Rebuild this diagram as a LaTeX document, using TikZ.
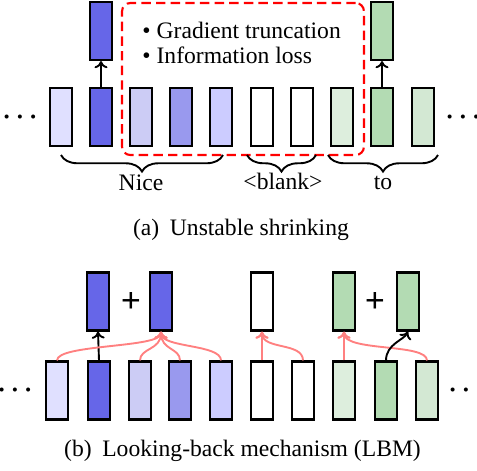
\documentclass[tikz,border=0pt]{standalone}
\usepackage{fontspec}
\setmainfont{Liberation Serif}
\usetikzlibrary{decorations.pathreplacing,arrows.meta}
\definecolor{bla}{HTML}{E0E0FF}
\definecolor{bld}{HTML}{6666E8}
\definecolor{blb}{HTML}{CCCCF5}
\definecolor{blc}{HTML}{9999EE}
\definecolor{ble}{HTML}{CCCCFF}
\definecolor{gra}{HTML}{DDEEDD}
\definecolor{grd}{HTML}{B3DBB3}
\definecolor{grc}{HTML}{D3E8D3}
\definecolor{salmon}{HTML}{FF8080}
\begin{document}
\begin{tikzpicture}[x=0.4237pt,y=-0.4237pt,
  tok/.style={draw=black, line width=0.9pt, minimum width=9.3pt, minimum height=24.6pt, inner sep=0pt},
  blk/.style={draw=black, line width=0.8pt, -{To[length=3pt,width=5.5pt]}},
  rd/.style={draw=salmon, line width=0.8pt, -{To[length=3pt,width=5.5pt]}},
  brc/.style={draw=black, line width=0.8pt, decorate, decoration={brace, mirror, amplitude=7pt}},
  lbl/.style={anchor=base, inner sep=0pt},
  dots/.style={inner sep=0pt, font=\fontsize{10.5}{13}\selectfont\boldmath},
  plus/.style={inner sep=0pt, font=\fontsize{15}{17}\selectfont\bfseries}]
\useasboundingbox (0,0) rectangle (477,470);

% ---------- (a) ----------
\node[draw=red, line width=0.9pt, dash pattern=on 4pt off 2.2pt, rounded corners=3.5pt,
      minimum width=102.5pt, minimum height=64.4pt, inner sep=0pt] (lossbox) at (243,79) {};
\node[anchor=base west, inner sep=0pt] (t1) at (142,38) {\textbullet\ Gradient truncation};
\node[anchor=base west, inner sep=0pt] (t2) at (142,63) {\textbullet\ Information loss};

\node[tok, fill=bla] (a1) at (61,117) {};
\node[tok, fill=bld] (a2) at (101,117) {};
\node[tok, fill=blb] (a3) at (141,117) {};
\node[tok, fill=blc] (a4) at (181,117) {};
\node[tok, fill=ble] (a5) at (221,117) {};
\node[tok, fill=white] (a6) at (262,117) {};
\node[tok, fill=white] (a7) at (302,117) {};
\node[tok, fill=gra] (a8) at (342,117) {};
\node[tok, fill=grd] (a9) at (382,117) {};
\node[tok, fill=grc] (a10) at (423,117) {};
\node[tok, fill=bld] (at2) at (101,31) {};
\node[tok, fill=grd] (at9) at (382,31) {};
\draw[blk] (a2.north) -- (at2.south);
\draw[blk] (a9.north) -- (at9.south);
\node[dots] (dl) at (20,117) {$\cdots$};
\node[dots] (dr) at (463,117) {$\cdots$};

\coordinate (n1) at (61,155); \coordinate (n2) at (223,155);
\coordinate (k1) at (247,155); \coordinate (k2) at (316,155);
\coordinate (o1) at (328,155); \coordinate (o2) at (438,155);
\draw[brc] (n1) -- (n2);
\draw[brc] (k1) -- (k2);
\draw[brc] (o1) -- (o2);
\node[lbl] (lnice) at (141,190) {Nice};
\node[lbl] (lblank) at (283,189) {\textless blank\textgreater};
\node[lbl] (lto) at (383,189) {to};
\node[lbl] (capa) at (241,235) {(a)\hspace{0.45em}Unstable shrinking};

% ---------- (b) ----------
\node[tok, fill=bla] (b1) at (57,390.5) {};
\node[tok, fill=bld] (b2) at (99,390.5) {};
\node[tok, fill=blb] (b3) at (140,390.5) {};
\node[tok, fill=blc] (b4) at (180,390.5) {};
\node[tok, fill=ble] (b5) at (221,390.5) {};
\node[tok, fill=white] (b6) at (262,390.5) {};
\node[tok, fill=white] (b7) at (303,390.5) {};
\node[tok, fill=gra] (b8) at (344,390.5) {};
\node[tok, fill=grd] (b9) at (386,390.5) {};
\node[tok, fill=grc] (b10) at (427,390.5) {};
\node[dots] (el) at (15,390) {$\cdots$};
\node[dots] (er) at (466,390) {$\cdots$};

\node[tok, fill=bld] (bA) at (98,301.5) {};
\node[tok, fill=bld] (bB) at (161,301.5) {};
\node[tok, fill=white] (bC) at (262,301.5) {};
\node[tok, fill=grd] (bD) at (344,301.5) {};
\node[tok, fill=grd] (bE) at (408,301.5) {};
\node[plus] (p1) at (131,302) {+};
\node[plus] (p2) at (375,302) {+};

\draw[blk] (b2.north) -- (bA.south);
\draw[rd] (b1.north) .. controls (57,344) and (161,348) .. (bB.south);
\draw[rd] (b3.north) .. controls (140,348) and (161,350) .. (bB.south);
\draw[rd] (b4.north) .. controls (180,348) and (161,350) .. (bB.south);
\draw[rd] (b5.north) .. controls (221,344) and (161,348) .. (bB.south);
\draw[rd] (b6.north) -- (bC.south);
\draw[rd] (b7.north) .. controls (303,342) and (262,350) .. (bC.south);
\draw[rd] (b8.north) -- (bD.south);
\draw[rd] (b10.north) .. controls (427,343) and (344,352) .. (bD.south);
\draw[blk] (b9.north) .. controls (386,344) and (404,340) .. (bE.south);

\node[lbl] (capb) at (242.5,456) {(b)\hspace{0.45em}Looking-back mechanism (LBM)};
\end{tikzpicture}
\end{document}
